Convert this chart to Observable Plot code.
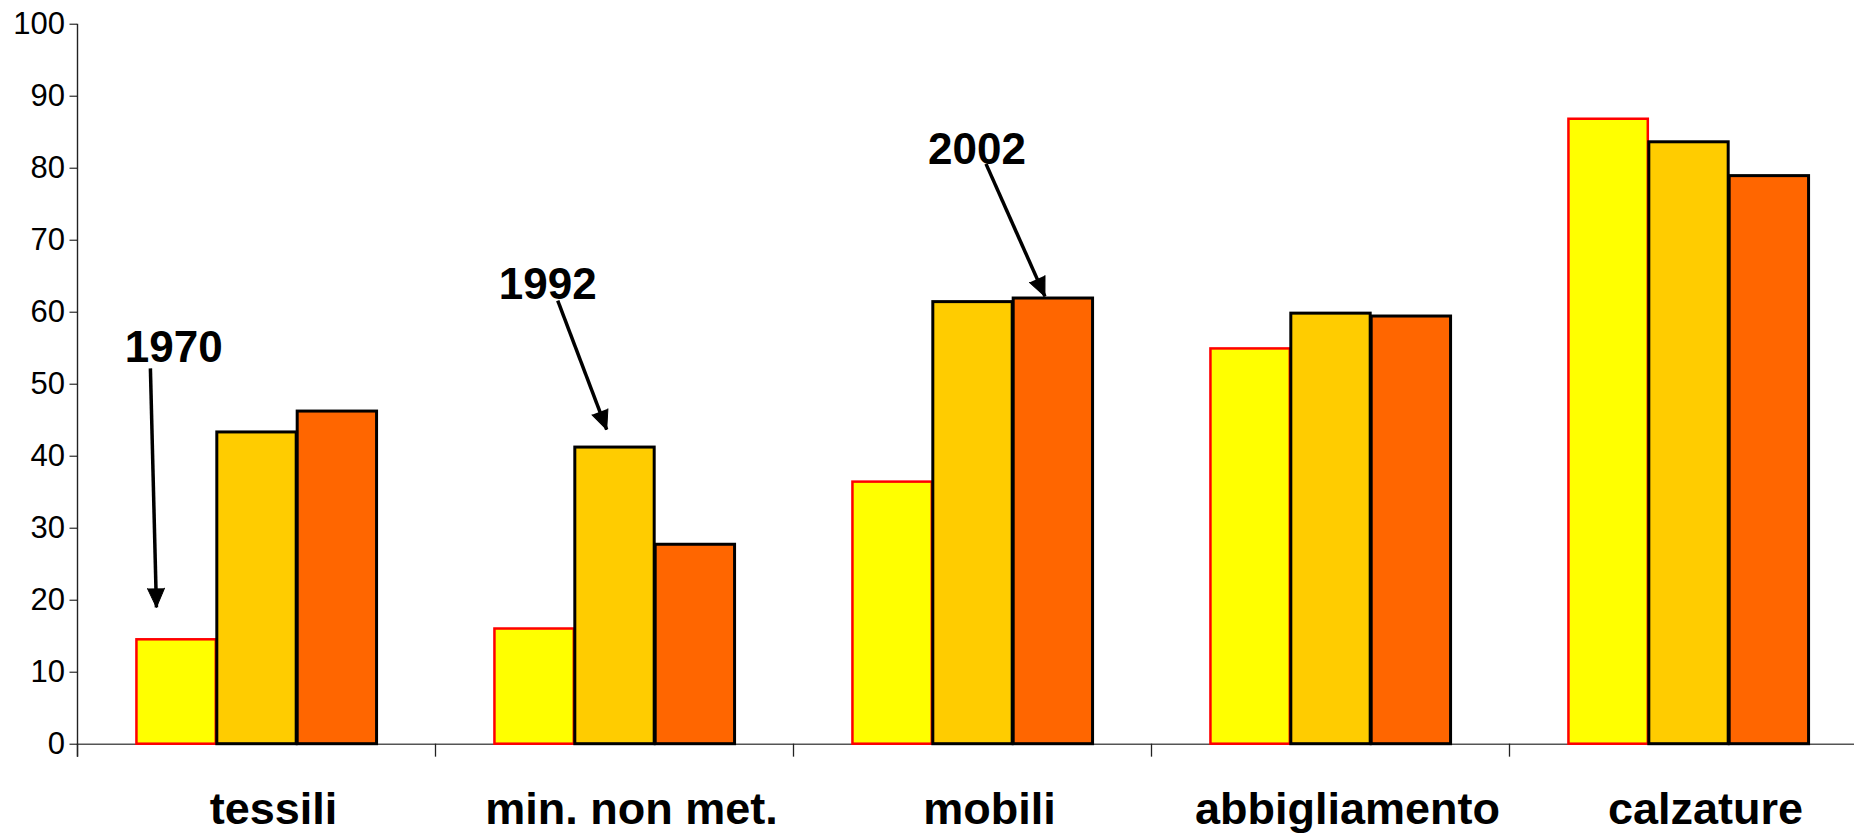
<!DOCTYPE html>
<html><head><meta charset="utf-8">
<script src="https://cdn.jsdelivr.net/npm/d3@7"></script>
<script src="https://cdn.jsdelivr.net/npm/@observablehq/plot@0.6"></script>
<style>
html,body{margin:0;padding:0;background:#fff;overflow:hidden;}
#chart{width:1854px;height:834px;overflow:hidden;}
#chart svg{max-width:none;}
</style></head><body><div id="chart"></div>
<script>
// ---- data ----
const categories = ["tessili", "min. non met.", "mobili", "abbigliamento", "calzature"];
const years = ["1970", "1992", "2002"];
const values1970 = [14.5, 16.0, 36.4, 54.9, 86.8];
const values1992 = [43.3, 41.2, 61.4, 59.8, 83.6];
const values2002 = [46.2, 27.7, 61.9, 59.4, 78.9];
const yTicks = [0, 10, 20, 30, 40, 50, 60, 70, 80, 90, 100];

// annotations (in data units: x = year slot inside the category, y = value)
const annoLabels = ["1970", "1992", "2002"];
const annoCategory = ["tessili", "min. non met.", "mobili"];
const annoTextX = [0.47, 0.67, 1.556];
const annoTextY = [55.0, 63.8, 82.6];
const arrowTailX = [0.18, 0.794, 1.668];
const arrowTailY = [52.2, 61.6, 80.6];
const arrowTipX = [0.255, 1.403, 2.401];
const arrowTipY = [19.0, 43.7, 62.2];

// ---- styles ----
const fills = ["#FFFF00", "#FFCC00", "#FF6600"];
const strokes = ["#FF0000", "#000000", "#000000"];
const strokeWidths = [2.5, 3, 3];
const headRotate = [178.6, 159.2, 156.1];
const xDomain = [-0.727, 3.727];

const series = [values1970, values1992, values2002];
const rows = years.map((yr, j) => categories.map((c, i) => ({category: c, year: yr, slot: j, value: series[j][i]})));
const annos = annoLabels.map((t, i) => ({
  label: t, category: annoCategory[i], tx: annoTextX[i], ty: annoTextY[i],
  x1: arrowTailX[i], y1: arrowTailY[i], x2: arrowTipX[i], y2: arrowTipY[i], rot: headRotate[i]
}));

const chart = Plot.plot({
  width: 1868,
  height: 834,
  marginLeft: 75,
  marginRight: 0,
  marginTop: 23.7,
  marginBottom: 90.3,
  style: {fontFamily: "'Liberation Sans', Arial, sans-serif", color: "#000", background: "#fff"},
  fx: {domain: categories, padding: 0, axis: null, label: null},
  x: {domain: xDomain, axis: null},
  y: {domain: [0, 100], label: null},
  marks: [
    Plot.ruleY([0], {stroke: "#555", strokeWidth: 1.4}),
    Plot.ruleX(categories, {fx: d => d, x: () => xDomain[0], y1: 0, y2: -1.8, stroke: "#222", strokeWidth: 1.3}),
    Plot.ruleX([categories[0]], {fx: d => d, x: () => xDomain[0], y1: -1.8, y2: 100, stroke: "#222", strokeWidth: 1.4}),
    ...rows.map((r, j) => Plot.rectY(r, {
      fx: "category", x: "slot", interval: 1, y: "value",
      fill: fills[j], stroke: strokes[j], strokeWidth: strokeWidths[j]
    })),
    Plot.axisY({ticks: yTicks, tickSize: 7.5, tickPadding: 5, fontSize: 31, label: null, tickFormat: d => String(d)}),
    Plot.axisFx({anchor: "bottom", tickSize: 0, tickPadding: 48, fontSize: 45, fontWeight: "bold", label: null, dx: 17}),
    Plot.link(annos, {fx: "category", x1: "x1", y1: "y1", x2: "x2", y2: "y2",
      stroke: "#000", strokeWidth: 3.5}),
    Plot.vector(annos, {fx: "category", x: "x2", y: "y2", rotate: "rot", anchor: "end",
      shape: "spike", length: 19, r: 8.5, fill: "#000", stroke: "#000", strokeWidth: 1}),
    Plot.text(annos, {fx: "category", x: "tx", y: "ty", text: "label",
      fontSize: 44, fontWeight: "bold", lineAnchor: "middle", fill: "#000"})
  ]
});
document.getElementById("chart").appendChild(chart);
</script>
</body></html>
